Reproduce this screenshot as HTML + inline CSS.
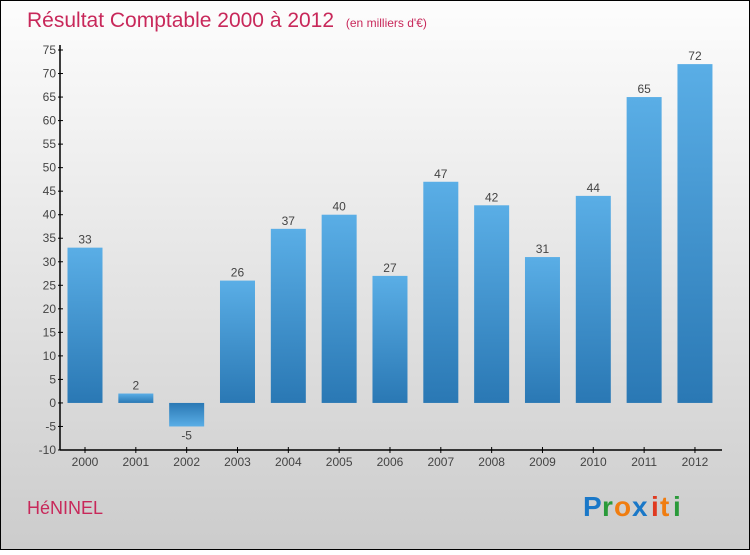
<!DOCTYPE html>
<html><head><meta charset="utf-8"><style>
html,body{margin:0;padding:0}
body{width:750px;height:550px;overflow:hidden;font-family:"Liberation Sans",sans-serif}
</style></head><body>
<svg width="750" height="550" xmlns="http://www.w3.org/2000/svg">
<defs>
<linearGradient id="bg" x1="0" y1="0" x2="0" y2="1"><stop offset="0" stop-color="#fdfdfd"/><stop offset="1" stop-color="#cccccc"/></linearGradient>
<linearGradient id="gp" x1="0" y1="0" x2="0" y2="1"><stop offset="0" stop-color="#5aaee6"/><stop offset="1" stop-color="#2a78b4"/></linearGradient>
<linearGradient id="gn" x1="0" y1="0" x2="0" y2="1"><stop offset="0" stop-color="#2a78b4"/><stop offset="1" stop-color="#5aaee6"/></linearGradient>
</defs>
<rect x="0.5" y="0.5" width="749" height="549" fill="url(#bg)" stroke="#000"/>
<text x="27" y="27" font-size="21" fill="#c8285a">Résultat Comptable 2000 à 2012 <tspan font-size="12" dx="6">(en milliers d'€)</tspan></text>
<text x="27" y="514" font-size="18" fill="#c8285a">HéNINEL</text>
<g font-size="28" font-weight="bold">
<text x="583" y="516" fill="#1a78c8">P</text><text x="602" y="516" fill="#2a9a3a">r</text><text x="614" y="516" fill="#f07d10">o</text><text x="632" y="516" fill="#1a78c8">x</text><text x="651" y="516" fill="#e03a20">i</text><text x="660" y="516" fill="#f07d10">t</text><text x="673" y="516" fill="#2a9a3a">i</text>
</g>
<g id="plot"></g>
</svg>
<script>
const years=["2000","2001","2002","2003","2004","2005","2006","2007","2008","2009","2010","2011","2012"];
const values=[33,2,-5,26,37,40,27,47,42,31,44,65,72];
const yTicks=[-10,-5,0,5,10,15,20,25,30,35,40,45,50,55,60,65,70,75];
const NS="http://www.w3.org/2000/svg";
const g=document.getElementById('plot');
const y=v=>450-(v+10)*(400/85);
const x=i=>85+i*50.83;
function mk(t,a,txt){const e=document.createElementNS(NS,t);for(const k in a)e.setAttribute(k,a[k]);if(txt!==undefined)e.textContent=txt;g.appendChild(e);return e;}
let e=mk('line',{x1:60,y1:45,x2:60,y2:450,stroke:'#000','stroke-width':1.5});


e=mk('line',{x1:60,y1:450,x2:722,y2:450,stroke:'#000','stroke-width':1.5});


yTicks.forEach(v=>{
 let t=mk('line',{x1:58,y1:y(v),x2:63,y2:y(v),stroke:'#000'});
 
 
 let l=mk('text',{x:56,y:y(v)+4,'text-anchor':'end','font-size':12,fill:'#444'},v);
 
 
});
years.forEach((yr,i)=>{
 const v=values[i],cx=x(i),top=y(Math.max(v,0)),bot=y(Math.min(v,0));
 let r=mk('rect',{x:cx-17.5,y:top,width:35,height:Math.max(bot-top,0.5),fill:v>=0?'url(#gp)':'url(#gn)'});
 
 
 let lv=mk('text',{x:cx,y:v>=0?top-4:bot+13,'text-anchor':'middle','font-size':12,fill:'#444'},v);
 
 
 let t=mk('line',{x1:cx,y1:447,x2:cx,y2:453,stroke:'#000'});
 
 
 let l=mk('text',{x:cx,y:466,'text-anchor':'middle','font-size':12,fill:'#444'},yr);
 
 
});
</script>
</body></html>
